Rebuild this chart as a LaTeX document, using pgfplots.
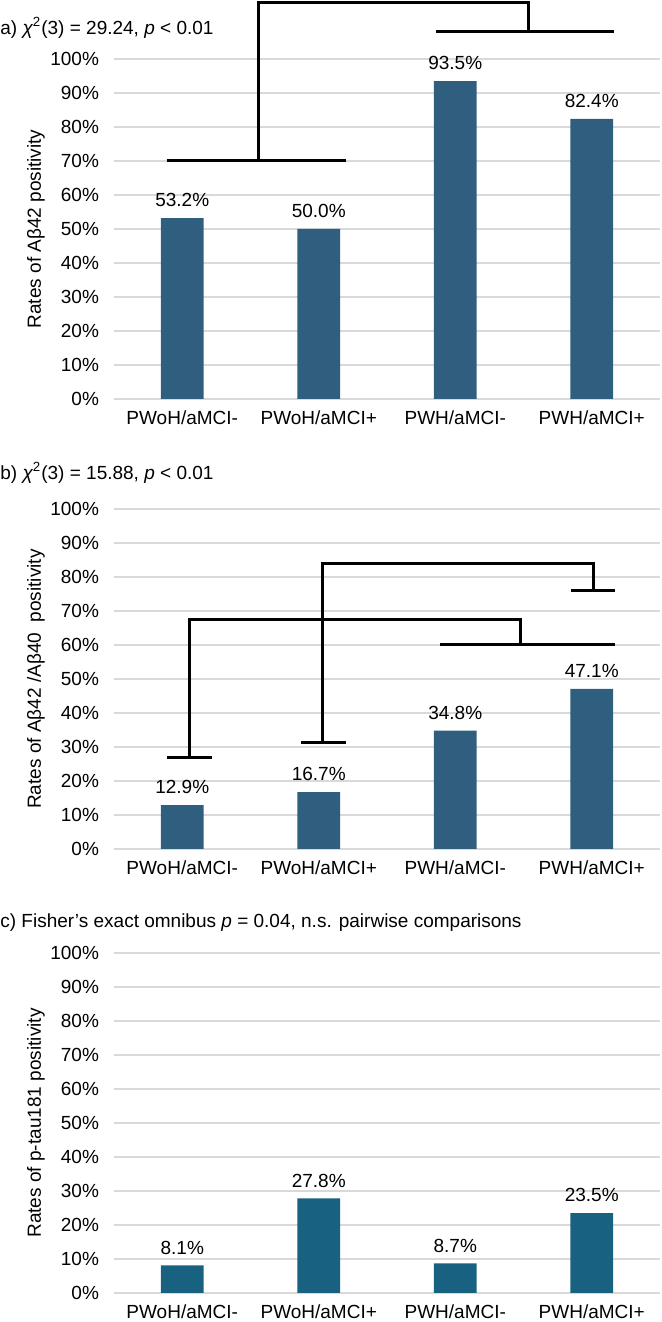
\documentclass[border=0pt]{standalone}
\usepackage{fontspec}
\setmainfont{Liberation Sans}
\usepackage{pgfplots}
\pgfplotsset{compat=1.18}
\definecolor{barA}{RGB}{47,94,126}
\definecolor{barC}{RGB}{24,97,128}
\definecolor{gridc}{RGB}{217,217,217}
\newcommand{\ff}{\fontsize{9.5}{11}\selectfont}
\pgfplotsset{
  panel/.style={
    scale only axis, width=273pt, height=170pt,
    anchor=south west,
    xmin=-0.5, xmax=3.5, ymin=0, ymax=100,
    axis line style={draw=none},
    major tick length=0pt,
    xtick={0,1,2,3},
    xticklabels={PWoH/aMCI-,PWoH/aMCI+,PWH/aMCI-,PWH/aMCI+},
    ytick={0,10,20,30,40,50,60,70,80,90,100},
    yticklabels={0\%,10\%,20\%,30\%,40\%,50\%,60\%,70\%,80\%,90\%,100\%},
    ymajorgrids, grid style={gridc, line width=0.75pt},
    tick label style={font=\ff},
    xticklabel style={yshift=-2.5pt},
    yticklabel style={xshift=-4pt},
    every axis y label/.style={at={(axis description cs:-0.1429,0.5)}, rotate=90, anchor=center, font=\ff},
    clip=false,
    bar width=21.3pt,
  },
  bars/.style={ybar, fill=#1, draw=none,
    nodes near coords={\pgfmathprintnumber[fixed,fixed zerofill,precision=1,assume math mode=true]{\pgfplotspointmeta}\%},
    every node near coord/.append style={font=\ff, black, yshift=2pt}},
  brk/.style={black, line width=1.5pt, mark=none}
}
\begin{document}
\begin{tikzpicture}
\useasboundingbox (0pt,0pt) rectangle (331pt,661pt);
% Panel a
\begin{axis}[panel, at={(57pt,461.5pt)}, ylabel={Rates of Aβ42 positivity}]
\addplot[bars=barA] coordinates {(0,53.2) (1,50.0) (2,93.5) (3,82.4)};
\addplot[brk] coordinates {(-0.115,70) (1.2,70)};
\addplot[brk] coordinates {(0.56,70) (0.56,116.5) (2.54,116.5) (2.54,108)};
\addplot[brk] coordinates {(1.86,108) (3.16,108)};
\end{axis}
% Panel b
\begin{axis}[panel, at={(57pt,236.5pt)}, ylabel={Rates of Aβ42 /Aβ40\ \ positivity}]
\addplot[bars=barA] coordinates {(0,12.9) (1,16.7) (2,34.8) (3,47.1)};
\addplot[brk] coordinates {(1.03,31.2) (1.03,84) (3.01,84) (3.01,76)};
\addplot[brk] coordinates {(0.87,31.2) (1.2,31.2)};
\addplot[brk] coordinates {(2.85,76) (3.17,76)};
\addplot[brk] coordinates {(0.053,27) (0.053,67.5) (2.48,67.5) (2.48,60.2)};
\addplot[brk] coordinates {(-0.115,27) (0.22,27)};
\addplot[brk] coordinates {(1.89,60.2) (3.17,60.2)};
\end{axis}
% Panel c
\begin{axis}[panel, at={(57pt,14.5pt)}, ylabel={Rates of p-tau181 positivity}]
\addplot[bars=barC] coordinates {(0,8.1) (1,27.8) (2,8.7) (3,23.5)};
\end{axis}
\node[anchor=west, inner sep=0pt, font=\ff] at (0pt,647pt) {a) {\itshape χ}\textsuperscript{2}(3) = 29.24, \textit{p} < 0.01};
\node[anchor=west, inner sep=0pt, font=\ff] at (0pt,424.5pt) {b) {\itshape χ}\textsuperscript{2}(3) = 15.88, \textit{p} < 0.01};
\node[anchor=west, inner sep=0pt, font=\ff] at (0pt,199.5pt) {c) Fisher’s exact omnibus \textit{p} = 0.04, n.s. pairwise comparisons};
\end{tikzpicture}
\end{document}
